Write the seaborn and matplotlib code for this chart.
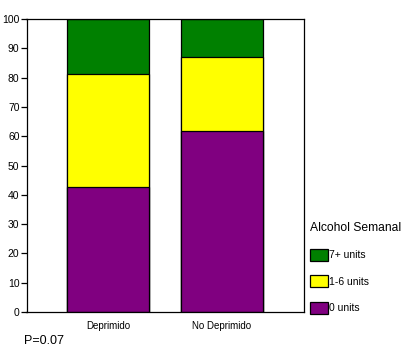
import numpy as np
import pandas as pd
import matplotlib
matplotlib.use("Agg")
import matplotlib.pyplot as plt
import seaborn as sns

# data (percent)
groups = ["Deprimido", "No Deprimido"]
units_0 = [42.6, 61.8]
units_1_6 = [38.5, 25.2]
units_7 = [18.9, 13.0]
legend_labels = ["7+ units", "1-6 units", "0 units"]
colors = ["#008000", "#ffff00", "#800080"]

df = pd.DataFrame({"group": groups, "u0": units_0, "u16": units_1_6, "u7": units_7})
df["c0"] = df["u0"]
df["c16"] = df["u0"] + df["u16"]
df["c7"] = df["c16"] + df["u7"]

sns.set_style("white")
plt.rcParams["font.family"] = ["Liberation Sans", "DejaVu Sans"]
plt.rcParams["text.color"] = "black"
plt.rcParams["xtick.color"] = "black"
plt.rcParams["ytick.color"] = "black"

fig = plt.figure(figsize=(4.04, 3.57), dpi=100)
ax = fig.add_axes([26.5 / 404, 45 / 357, 277.5 / 404, 293 / 357])

# draw the cumulative layers back to front
for col, c in zip(["c7", "c16", "c0"], colors):
    sns.barplot(data=df, x="group", y=col, color=c, width=0.722,
                edgecolor="black", linewidth=0.9, saturation=1, ax=ax)

ax.set_xlim(-0.72, 1.724)
ax.set_ylim(0, 100)
ax.set_yticks(np.arange(0, 101, 10))
ax.set_xlabel("")
ax.set_ylabel("")
for s in ax.spines.values():
    s.set_visible(True)
    s.set_color("black")
    s.set_linewidth(0.9)
ax.tick_params(axis="y", left=True, length=4, width=0.9, direction="out",
               labelsize=7.5, pad=1, colors="black")
ax.tick_params(axis="x", bottom=False, labelsize=7, pad=3, colors="black")

handles = [plt.Rectangle((0, 0), 1, 1, facecolor=c, edgecolor="black", linewidth=0.9)
           for c in colors]
leg = fig.legend(handles, legend_labels, loc="upper left",
                 bbox_to_anchor=(306 / 404, 1 - 218 / 357), frameon=False,
                 title="Alcohol Semanal", title_fontsize=8.7, fontsize=7.5,
                 handlelength=1.75, handleheight=1.38, handletextpad=0.05,
                 labelspacing=1.4, borderpad=0.4, borderaxespad=0,
                 alignment="left")

fig.text(24 / 404, 1 - 341 / 357, "P=0.07", fontsize=9, va="center", ha="left")

fig.savefig("out.png", dpi=100)
